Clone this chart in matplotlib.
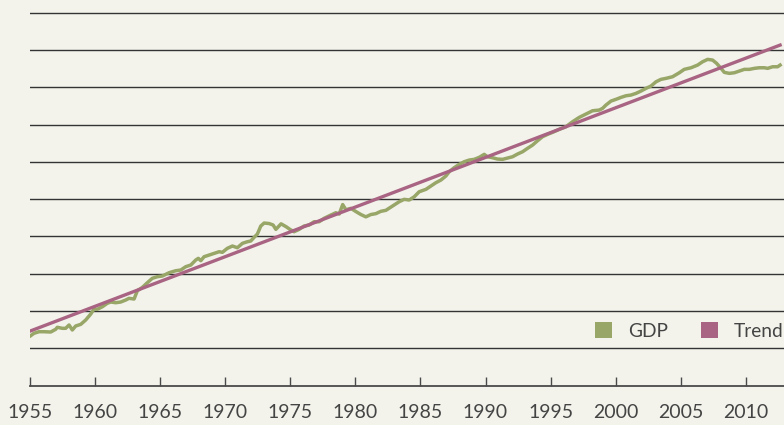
# GDP vs long-run trend line chart, recreated from reference image.
import numpy as np
import matplotlib
matplotlib.use('Agg')
import matplotlib.pyplot as plt
from matplotlib.patches import Patch

# GDP series (year, index value on the chart's gridline scale)
gdp_years = [
    1955.03, 1955.28, 1955.67, 1956.05, 1956.57, 1956.95, 1957.08, 1957.46, 1957.72, 1957.98,
    1958.23, 1958.49, 1958.88, 1959.26, 1959.65, 1959.90, 1960.15, 1960.54, 1960.92, 1961.18,
    1961.57, 1961.95, 1962.34, 1962.59, 1962.98, 1963.23, 1963.62, 1964.00, 1964.38, 1964.77,
    1965.15, 1965.67, 1966.18, 1966.57, 1966.95, 1967.34, 1967.72, 1967.92, 1968.11, 1968.36,
    1968.75, 1969.13, 1969.52, 1969.77, 1970.15, 1970.54, 1970.92, 1971.31, 1971.69, 1971.95,
    1972.21, 1972.46, 1972.72, 1972.98, 1973.36, 1973.67, 1973.88, 1974.28, 1974.67, 1974.98,
    1975.28, 1975.67, 1976.05, 1976.44, 1976.82, 1977.21, 1977.59, 1978.11, 1978.49, 1978.75,
    1979.02, 1979.26, 1979.65, 1980.03, 1980.42, 1980.80, 1981.18, 1981.57, 1981.95, 1982.34,
    1982.85, 1983.36, 1983.75, 1984.13, 1984.52, 1984.90, 1985.42, 1985.80, 1986.18, 1986.57,
    1986.95, 1987.21, 1987.59, 1987.98, 1988.36, 1988.75, 1989.13, 1989.52, 1989.90, 1990.15,
    1990.54, 1990.92, 1991.31, 1991.69, 1992.08, 1992.46, 1992.85, 1993.23, 1993.62, 1994.00,
    1994.38, 1994.77, 1995.21, 1995.67, 1996.18, 1996.69, 1997.21, 1997.72, 1998.23, 1998.75,
    1999.00, 1999.26, 1999.65, 2000.03, 2000.42, 2000.80, 2001.18, 2001.57, 2001.95, 2002.34,
    2002.72, 2003.11, 2003.49, 2003.88, 2004.38, 2004.90, 2005.28, 2005.80, 2006.31, 2006.69,
    2007.08, 2007.46, 2007.77, 2008.11, 2008.36, 2008.75, 2009.13, 2009.52, 2009.90, 2010.28,
    2010.67, 2011.05, 2011.44, 2011.69, 2012.08, 2012.46, 2012.65,
]
gdp_values = [
    1.338, 1.402, 1.445, 1.445, 1.437, 1.509, 1.563, 1.536, 1.536, 1.625,
    1.491, 1.598, 1.643, 1.759, 1.920, 2.054, 2.046, 2.115, 2.206, 2.241,
    2.223, 2.241, 2.295, 2.340, 2.322, 2.544, 2.635, 2.759, 2.877, 2.920,
    2.938, 3.027, 3.080, 3.099, 3.188, 3.233, 3.367, 3.413, 3.349, 3.456,
    3.501, 3.547, 3.590, 3.574, 3.681, 3.743, 3.697, 3.815, 3.858, 3.877,
    3.976, 4.064, 4.279, 4.359, 4.346, 4.306, 4.190, 4.338, 4.260, 4.185,
    4.126, 4.190, 4.279, 4.306, 4.394, 4.394, 4.485, 4.574, 4.635, 4.601,
    4.855, 4.716, 4.753, 4.668, 4.587, 4.525, 4.587, 4.611, 4.673, 4.700,
    4.815, 4.930, 4.995, 4.976, 5.064, 5.198, 5.263, 5.351, 5.440, 5.512,
    5.619, 5.735, 5.842, 5.933, 6.003, 6.048, 6.067, 6.121, 6.201, 6.137,
    6.110, 6.075, 6.067, 6.102, 6.137, 6.209, 6.271, 6.362, 6.450, 6.566,
    6.673, 6.737, 6.799, 6.871, 6.941, 7.075, 7.193, 7.282, 7.370, 7.389,
    7.434, 7.523, 7.630, 7.676, 7.729, 7.772, 7.791, 7.836, 7.898, 7.971,
    8.032, 8.147, 8.212, 8.239, 8.282, 8.389, 8.480, 8.523, 8.595, 8.684,
    8.748, 8.729, 8.641, 8.507, 8.399, 8.373, 8.389, 8.434, 8.480, 8.480,
    8.507, 8.523, 8.523, 8.507, 8.550, 8.550, 8.595,
]

# straight trend line (end points)
trend_years = [1955.0, 2012.65]
trend_values = [1.464, 9.131]

tick_years = [1955, 1960, 1965, 1970, 1975, 1980, 1985, 1990, 1995, 2000, 2005, 2010]
grid_levels = [1, 2, 3, 4, 5, 6, 7, 8, 9, 10]

BG = '#f3f3ec'
GREEN = '#98a668'
MAUVE = '#a86482'
TEXT = '#444444'

plt.rcParams['font.family'] = ['Lato', 'DejaVu Sans']

fig = plt.figure(figsize=(7.84, 4.25), dpi=100, facecolor=BG)
ax = fig.add_axes([30.3 / 784, (425 - 385.6) / 425, 1 - 30.3 / 784, 385.6 / 425])
ax.set_facecolor(BG)

ax.plot(gdp_years, gdp_values, color=GREEN, lw=2.5, solid_joinstyle='round', label='GDP', zorder=3)
ax.plot(trend_years, trend_values, color=MAUVE, lw=2.4, label='Trend', zorder=4)

ax.set_xlim(1955, 2012.95)
ax.set_ylim(0, 10.34)

ax.set_yticks(grid_levels)
ax.tick_params(axis='y', length=0, labelleft=False)
ax.yaxis.grid(True, color='#333333', lw=1.0)
ax.set_axisbelow(True)

ax.set_xticks(tick_years)
ax.set_xticklabels([str(y) for y in tick_years])
ax.tick_params(axis='x', direction='in', length=6.8, width=1.0, color='#4a4a4a',
               pad=13, labelsize=14, labelcolor=TEXT)

for side in ['top', 'right', 'left']:
    ax.spines[side].set_visible(False)
ax.spines['bottom'].set_color('#4a4a4a')
ax.spines['bottom'].set_linewidth(1.3)

handles = [Patch(facecolor=GREEN, edgecolor='none', label='GDP'),
           Patch(facecolor=MAUVE, edgecolor='none', label='Trend')]
leg = ax.legend(handles=handles, ncol=2, frameon=False, loc='center right',
                bbox_to_anchor=(1.0, 0.1416), borderpad=0, borderaxespad=0,
                handlelength=0.86, handleheight=0.86, handletextpad=0.85,
                columnspacing=1.75, prop={'size': 13.8})
for t in leg.get_texts():
    t.set_color(TEXT)

fig.savefig('out.png', dpi=100, facecolor=BG)
